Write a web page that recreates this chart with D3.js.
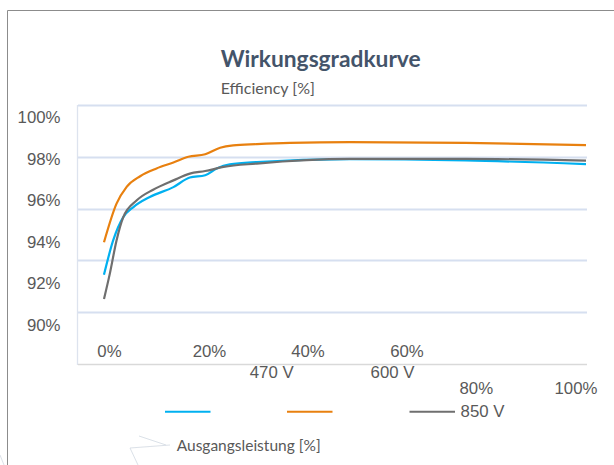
<!DOCTYPE html>
<html><head><meta charset="utf-8">
<script src="https://cdn.jsdelivr.net/npm/d3@7"></script>
<style>body{margin:0;background:#fff}svg{display:block}
.tk{font-family:"Liberation Sans";font-size:16.8px;fill:#595959}
.cal{font-family:"Lato";fill:#595959}
</style>
</head><body>
<svg id="c" width="614" height="465"></svg>
<script>
// ---- data ----
const seriesNames = ["470 V", "600 V", "850 V"];
const seriesColors = ["#00B0F0", "#E8800F", "#6F6F6F"];
const load470 = [0, 1.9, 4, 6.1, 9.5, 14.4, 17.8, 21, 23.4, 26.1, 31.7, 51, 75, 100];
const eff470  = [93.45, 94.77, 95.67, 96.06, 96.45, 96.83, 97.2, 97.29, 97.55, 97.71, 97.8, 97.91, 97.86, 97.72];
const load600 = [0, 2.6, 4.7, 7.5, 10.9, 14.4, 17.5, 21, 24.1, 26.8, 31.7, 38.6, 51, 75, 100];
const eff600  = [94.7, 96.19, 96.84, 97.25, 97.55, 97.78, 98.0, 98.1, 98.35, 98.44, 98.49, 98.54, 98.57, 98.54, 98.45];
const load850 = [0, 1.2, 2.6, 4, 6.8, 10.2, 14.4, 17.8, 21, 24.8, 31.7, 51, 75, 100];
const eff850  = [92.51, 93.48, 94.77, 95.67, 96.32, 96.73, 97.09, 97.35, 97.45, 97.61, 97.74, 97.92, 97.92, 97.85];
const yTickLabels = ["100%", "98%", "96%", "94%", "92%", "90%"];
const xTickLabels = ["0%", "20%", "40%", "60%", "80%", "100%"];
const gridValues = [100, 98, 96, 94, 92];
const titleText = "Wirkungsgradkurve";
const yTitle = "Efficiency [%]";
const xTitle = "Ausgangsleistung [%]";

const series = seriesNames.map((n, i) => ({
  name: n, color: seriesColors[i],
  values: [load470, load600, load850][i].map((x, j) => ({x, y: [eff470, eff600, eff850][i][j]}))
}));

// ---- drawing ----
const svg = d3.select("#c");

// outer border
svg.append("path").attr("d", "M7.5,470V10.5H620").attr("fill", "none").attr("stroke", "#8c8c8c").attr("stroke-width", 1);

const x = d3.scaleLinear().domain([0, 100]).range([104, 586]);
const y = d3.scaleLinear().domain([90, 100]).range([364, 105]);

// gridlines
svg.append("g").selectAll("line").data(gridValues).join("line")
  .attr("x1", 78).attr("x2", 587).attr("y1", d => Math.round(y(d)) + 0.5).attr("y2", d => Math.round(y(d)) + 0.5)
  .attr("stroke", "#d6dff0").attr("stroke-width", 1.8);
// left axis line
svg.append("line").attr("x1", 77.5).attr("x2", 77.5).attr("y1", y(100)).attr("y2", y(90) + 1)
  .attr("stroke", "#dde3ee").attr("stroke-width", 1.3);
// bottom axis line
svg.append("line").attr("x1", 78).attr("x2", 587).attr("y1", y(90) + 0.5).attr("y2", y(90) + 0.5)
  .attr("stroke", "#d9d9d9").attr("stroke-width", 1.6);

// y tick labels (displaced like in the reference)
const yLab = d3.scaleLinear().domain([0, yTickLabels.length - 1]).range([123.3, 331]);
svg.append("g").selectAll("text").data(yTickLabels).join("text").attr("class", "tk")
  .attr("x", 60.5).attr("y", (d, i) => yLab(i)).attr("text-anchor", "end").text(d => d);

// x tick labels
const xLabX = d3.scaleOrdinal().domain(xTickLabels).range([109.5, 209.5, 308, 407, 476.3, 576]);
const xLabY = d3.scaleOrdinal().domain(xTickLabels).range([356.7, 356.7, 356.7, 356.7, 394.3, 394.3]);
svg.append("g").selectAll("text").data(xTickLabels).join("text").attr("class", "tk")
  .attr("x", d => xLabX(d)).attr("y", d => xLabY(d)).attr("text-anchor", "middle").text(d => d);

// lines
const line = d3.line().x(d => x(d.x)).y(d => y(d.y)).curve(d3.curveMonotoneX);
svg.append("g").selectAll("path").data(series).join("path")
  .attr("d", d => line(d.values)).attr("fill", "none")
  .attr("stroke", d => d.color).attr("stroke-width", 2.2).attr("stroke-linejoin", "round");

// legend
const legSwatchX = d3.scaleOrdinal().domain(seriesNames).range([165, 287, 409.5]);
const legTextX = d3.scaleOrdinal().domain(seriesNames).range([271.7, 392.5, 482.5]);
const legTextY = d3.scaleOrdinal().domain(seriesNames).range([377.7, 377.7, 417.3]);
const leg = svg.append("g");
leg.selectAll("line").data(series).join("line")
  .attr("x1", d => legSwatchX(d.name)).attr("x2", d => legSwatchX(d.name) + 45.5)
  .attr("y1", 411.8).attr("y2", 411.8).attr("stroke", d => d.color).attr("stroke-width", 2);
leg.selectAll("text").data(series).join("text").attr("class", "tk")
  .attr("x", d => legTextX(d.name)).attr("y", d => legTextY(d.name)).attr("text-anchor", "middle").text(d => d.name);

// titles
svg.append("text").attr("class", "cal").attr("x", 220.7).attr("y", 66.5).attr("font-weight", "bold")
  .attr("font-size", 22).style("fill", "#44546A").attr("textLength", 200).attr("lengthAdjust", "spacingAndGlyphs").text(titleText);
svg.append("text").attr("class", "cal").attr("x", 220.7).attr("y", 94)
  .attr("font-size", 14.5).attr("textLength", 94.3).attr("lengthAdjust", "spacingAndGlyphs").text(yTitle);
svg.append("text").attr("class", "cal").attr("x", 176.7).attr("y", 450.5)
  .attr("font-size", 15).attr("textLength", 144).attr("lengthAdjust", "spacingAndGlyphs").text(xTitle);

// faint artifact strokes near the axis title
const art = svg.append("g").attr("stroke", "#c8d0dc").attr("stroke-width", 0.8).attr("fill", "none").attr("opacity", 0.8);
art.append("path").attr("d", "M139,436L166,445");
art.append("path").attr("d", "M130,448L170,445");
art.append("path").attr("d", "M130,448L138,465");
art.append("path").attr("d", "M0,455L4,465");
</script>
</body></html>
